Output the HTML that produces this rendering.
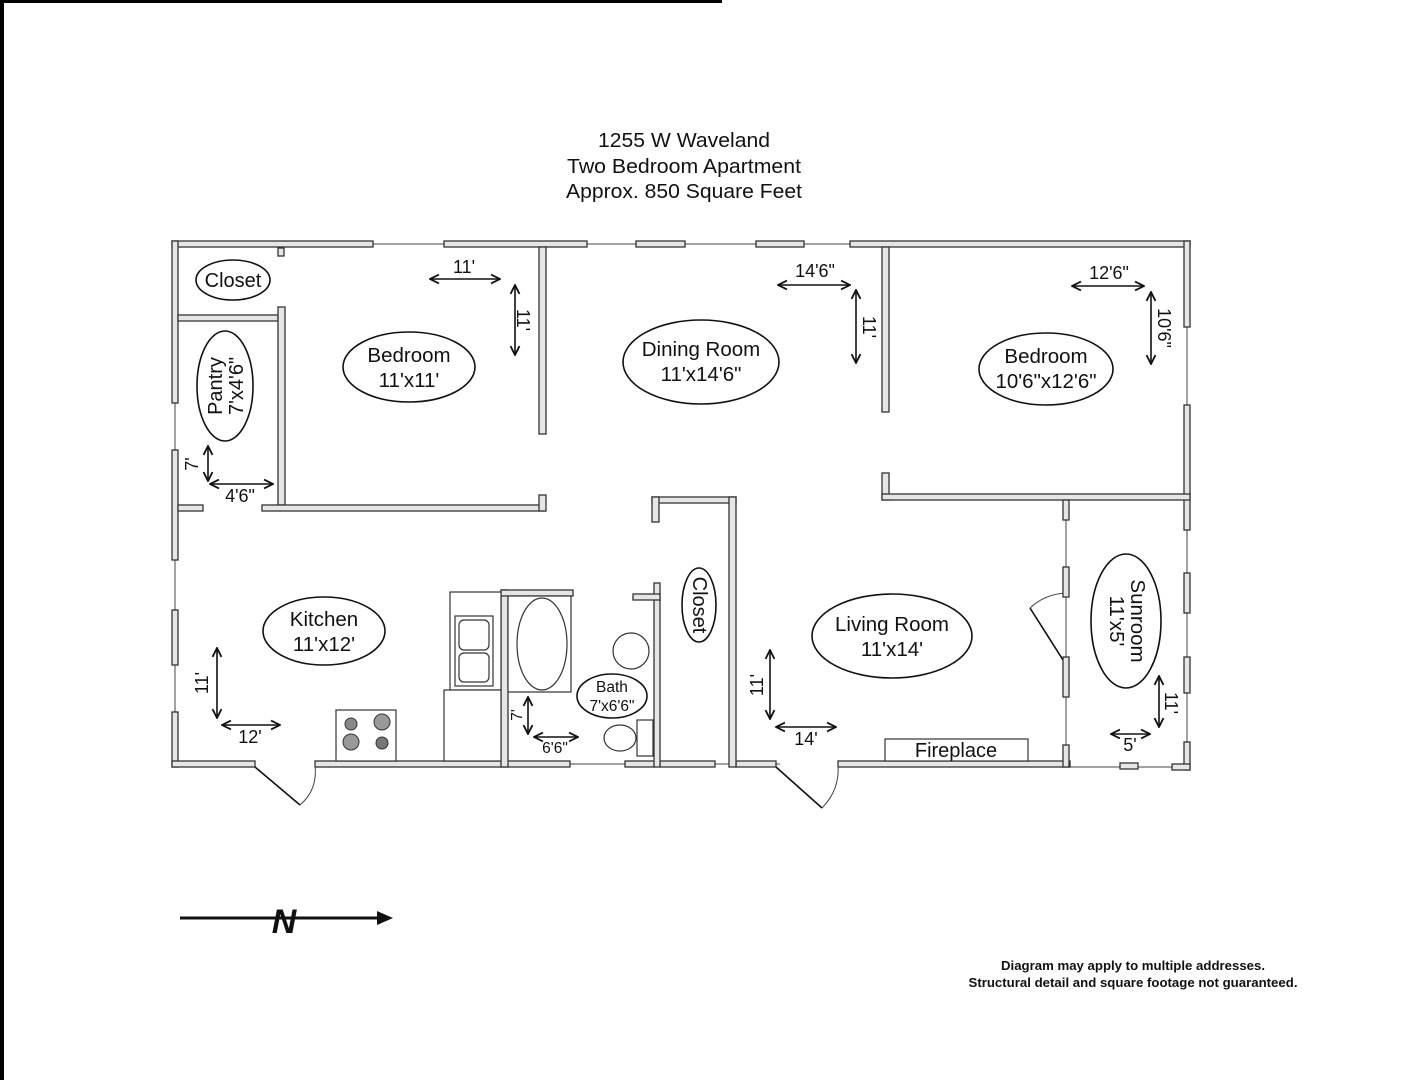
<!DOCTYPE html>
<html><head><meta charset="utf-8"><style>
html,body{margin:0;padding:0;background:#fff;}
svg{display:block;}
text{font-family:"Liberation Sans",Arial,sans-serif;fill:#111;}
.w{fill:#e6e6e6;stroke:#333;stroke-width:1.3;}
.t{stroke:#444;stroke-width:1;fill:none;}
.e{fill:#fff;stroke:#111;stroke-width:1.6;}
.a{stroke:#111;stroke-width:1.6;fill:none;}
.f{fill:#fff;stroke:#333;stroke-width:1.2;}
</style></head><body>
<svg width="1401" height="1080" viewBox="0 0 1401 1080" xmlns="http://www.w3.org/2000/svg">
<rect x="0" y="0" width="4" height="1080" fill="#000"/>
<rect x="0" y="0" width="722" height="3" fill="#000"/>
<defs>
<marker id="m" viewBox="0 0 10 10" refX="9" refY="5" markerWidth="7" markerHeight="7" orient="auto-start-reverse"><path d="M1,1 L9,5 L1,9" fill="none" stroke="#111" stroke-width="1.6"/></marker>
</defs>

<!-- Title -->
<text x="684" y="147" font-size="20.5" text-anchor="middle" textLength="172" lengthAdjust="spacingAndGlyphs">1255 W Waveland</text>
<text x="684" y="173" font-size="20.5" text-anchor="middle" textLength="234" lengthAdjust="spacingAndGlyphs">Two Bedroom Apartment</text>
<text x="684" y="198" font-size="20.5" text-anchor="middle" textLength="236" lengthAdjust="spacingAndGlyphs">Approx. 850 Square Feet</text>

<!-- window thin lines -->
<line class="t" x1="172" y1="244" x2="1188" y2="244"/>
<line class="t" x1="175" y1="241" x2="175" y2="767"/>
<line class="t" x1="1187" y1="241" x2="1187" y2="767"/>
<line class="t" x1="560" y1="764" x2="780" y2="764"/>
<line class="t" x1="1066" y1="500" x2="1066" y2="767"/>
<line class="t" x1="1066" y1="767" x2="1188" y2="767"/>

<!-- Top wall -->
<rect class="w" x="172" y="241" width="201" height="6"/>
<rect class="w" x="444" y="241" width="143" height="6"/>
<rect class="w" x="636" y="241" width="49" height="6"/>
<rect class="w" x="756" y="241" width="48" height="6"/>
<rect class="w" x="850" y="241" width="340" height="6"/>
<!-- Left wall -->
<rect class="w" x="172" y="241" width="6" height="162"/>
<rect class="w" x="172" y="450" width="6" height="110"/>
<rect class="w" x="172" y="610" width="6" height="55"/>
<rect class="w" x="172" y="712" width="6" height="55"/>
<!-- Right wall -->
<rect class="w" x="1184" y="241" width="6" height="86"/>
<rect class="w" x="1184" y="405" width="6" height="125"/>
<rect class="w" x="1184" y="573" width="6" height="40"/>
<rect class="w" x="1184" y="657" width="6" height="36"/>
<rect class="w" x="1184" y="742" width="6" height="28"/>
<!-- Bottom wall -->
<rect class="w" x="172" y="761" width="83" height="6"/>
<rect class="w" x="315" y="761" width="255" height="6"/>
<rect class="w" x="625" y="761" width="30" height="6"/>
<rect class="w" x="660" y="761" width="55" height="6"/>
<rect class="w" x="736" y="761" width="40" height="6"/>
<rect class="w" x="838" y="761" width="232" height="6"/>
<rect class="w" x="1120" y="763" width="18" height="6"/>
<rect class="w" x="1172" y="764" width="18" height="6"/>
<!-- doors -->
<line class="a" x1="255" y1="767" x2="300" y2="805"/>
<path class="t" d="M300,805 Q318,790 315,764"/>
<line class="a" x1="776" y1="767" x2="822" y2="808"/>
<path class="t" d="M822,808 Q840,790 838,764"/>
<line class="a" x1="1063" y1="660" x2="1030" y2="608"/>
<path class="t" d="M1030,608 Q1045,594 1066,593"/>

<!-- Interior walls -->
<rect class="w" x="178" y="315" width="100" height="6"/>
<rect class="w" x="278" y="307" width="7" height="198"/>
<rect class="w" x="262" y="505" width="283" height="6"/>
<rect class="w" x="539" y="495" width="7" height="16"/>
<rect class="w" x="178" y="505" width="25" height="6"/>
<rect class="w" x="539" y="247" width="7" height="187"/>
<rect class="w" x="882" y="247" width="7" height="165"/>
<rect class="w" x="882" y="473" width="7" height="27"/>
<rect class="w" x="882" y="494" width="308" height="6"/>
<rect class="w" x="1063" y="500" width="6" height="20"/>
<rect class="w" x="1063" y="567" width="6" height="30"/>
<rect class="w" x="1063" y="657" width="6" height="40"/>
<rect class="w" x="1063" y="745" width="6" height="22"/>
<rect class="w" x="278" y="248" width="6" height="8"/>
<!-- closet -->
<rect class="w" x="652" y="497" width="84" height="6"/>
<rect class="w" x="652" y="497" width="7" height="25"/>
<rect class="w" x="729" y="497" width="7" height="270"/>
<!-- bath -->
<rect class="w" x="654" y="583" width="6" height="184"/>
<rect class="w" x="633" y="594" width="27" height="6"/>
<rect class="w" x="501" y="590" width="7" height="177"/>
<rect class="w" x="501" y="590" width="72" height="6"/>

<!-- Fixtures -->
<rect class="f" x="450" y="592" width="51" height="98"/>
<rect class="f" x="455" y="616" width="38" height="70"/>
<rect class="f" x="459" y="620" width="30" height="30" rx="5"/>
<rect class="f" x="459" y="653" width="30" height="29" rx="5"/>
<rect class="f" x="444" y="690" width="57" height="71"/>
<rect class="f" x="336" y="710" width="60" height="51"/>
<circle cx="351" cy="724" r="6" fill="#888" stroke="#333"/>
<circle cx="382" cy="722" r="8" fill="#999" stroke="#333"/>
<circle cx="351" cy="742" r="8" fill="#999" stroke="#333"/>
<circle cx="382" cy="743" r="6" fill="#777" stroke="#333"/>
<rect class="f" x="508" y="596" width="63" height="96"/>
<ellipse class="f" cx="542" cy="644" rx="25" ry="46"/>
<circle class="f" cx="631" cy="651" r="18"/>
<ellipse class="f" cx="620" cy="738" rx="16" ry="13"/>
<rect class="f" x="637" y="720" width="16" height="36"/>
<rect class="f" x="885" y="739" width="143" height="22"/>
<text x="956" y="757" font-size="20" text-anchor="middle">Fireplace</text>

<!-- Labels -->
<ellipse class="e" cx="233" cy="280" rx="37" ry="20"/>
<text x="233" y="287" font-size="20" text-anchor="middle">Closet</text>
<ellipse class="e" cx="225" cy="386" rx="28" ry="55"/>
<text transform="translate(222,386) rotate(-90)" font-size="20" text-anchor="middle">Pantry</text>
<text transform="translate(243,386) rotate(-90)" font-size="20" text-anchor="middle">7'x4'6"</text>
<ellipse class="e" cx="409" cy="367" rx="66" ry="35"/>
<text x="409" y="362" font-size="20.5" text-anchor="middle">Bedroom</text>
<text x="409" y="387" font-size="20.5" text-anchor="middle">11'x11'</text>
<ellipse class="e" cx="701" cy="362" rx="78" ry="42"/>
<text x="701" y="356" font-size="20.5" text-anchor="middle">Dining Room</text>
<text x="701" y="381" font-size="20.5" text-anchor="middle">11'x14'6"</text>
<ellipse class="e" cx="1046" cy="369" rx="67" ry="36"/>
<text x="1046" y="363" font-size="20.5" text-anchor="middle">Bedroom</text>
<text x="1046" y="388" font-size="20.5" text-anchor="middle">10'6"x12'6"</text>
<ellipse class="e" cx="324" cy="631" rx="61" ry="34"/>
<text x="324" y="626" font-size="20.5" text-anchor="middle">Kitchen</text>
<text x="324" y="651" font-size="20.5" text-anchor="middle">11'x12'</text>
<ellipse class="e" cx="612" cy="696" rx="35" ry="22"/>
<text x="612" y="692" font-size="15.5" text-anchor="middle">Bath</text>
<text x="612" y="711" font-size="15.5" text-anchor="middle">7'x6'6"</text>
<ellipse class="e" cx="699" cy="605" rx="17" ry="37"/>
<text transform="translate(693,605) rotate(90)" font-size="20" text-anchor="middle">Closet</text>
<ellipse class="e" cx="892" cy="636" rx="80" ry="42"/>
<text x="892" y="631" font-size="20.5" text-anchor="middle">Living Room</text>
<text x="892" y="656" font-size="20.5" text-anchor="middle">11'x14'</text>
<ellipse class="e" cx="1126" cy="621" rx="35" ry="67"/>
<text transform="translate(1131,621) rotate(90)" font-size="20.5" text-anchor="middle">Sunroom</text>
<text transform="translate(1110,621) rotate(90)" font-size="20.5" text-anchor="middle">11'x5'</text>

<!-- Dimension arrows -->
<line class="a" x1="430" y1="279" x2="500" y2="279" marker-start="url(#m)" marker-end="url(#m)"/>
<text x="464" y="273" font-size="18" text-anchor="middle">11'</text>
<line class="a" x1="515" y1="285" x2="515" y2="355" marker-start="url(#m)" marker-end="url(#m)"/>
<text transform="translate(517,320) rotate(90)" font-size="18" text-anchor="middle">11'</text>
<line class="a" x1="778" y1="285" x2="850" y2="285" marker-start="url(#m)" marker-end="url(#m)"/>
<text x="815" y="277" font-size="18" text-anchor="middle">14'6"</text>
<line class="a" x1="856" y1="290" x2="856" y2="363" marker-start="url(#m)" marker-end="url(#m)"/>
<text transform="translate(863,327) rotate(90)" font-size="18" text-anchor="middle">11'</text>
<line class="a" x1="1072" y1="286" x2="1144" y2="286" marker-start="url(#m)" marker-end="url(#m)"/>
<text x="1109" y="279" font-size="18" text-anchor="middle">12'6"</text>
<line class="a" x1="1151" y1="292" x2="1151" y2="364" marker-start="url(#m)" marker-end="url(#m)"/>
<text transform="translate(1158,328) rotate(90)" font-size="18" text-anchor="middle">10'6"</text>
<line class="a" x1="208" y1="446" x2="208" y2="481" marker-start="url(#m)" marker-end="url(#m)"/>
<text transform="translate(198,464) rotate(-90)" font-size="18" text-anchor="middle">7'</text>
<line class="a" x1="210" y1="484" x2="273" y2="484" marker-start="url(#m)" marker-end="url(#m)"/>
<text x="240" y="502" font-size="18" text-anchor="middle">4'6"</text>
<line class="a" x1="217" y1="648" x2="217" y2="718" marker-start="url(#m)" marker-end="url(#m)"/>
<text transform="translate(208,683) rotate(-90)" font-size="18" text-anchor="middle">11'</text>
<line class="a" x1="222" y1="725" x2="280" y2="725" marker-start="url(#m)" marker-end="url(#m)"/>
<text x="250" y="743" font-size="18" text-anchor="middle">12'</text>
<line class="a" x1="528" y1="697" x2="528" y2="734" marker-start="url(#m)" marker-end="url(#m)"/>
<text transform="translate(522,715) rotate(-90)" font-size="15.5" text-anchor="middle">7'</text>
<line class="a" x1="534" y1="737" x2="578" y2="737" marker-start="url(#m)" marker-end="url(#m)"/>
<text x="555" y="753" font-size="15.5" text-anchor="middle">6'6"</text>
<line class="a" x1="770" y1="650" x2="770" y2="719" marker-start="url(#m)" marker-end="url(#m)"/>
<text transform="translate(763,685) rotate(-90)" font-size="18" text-anchor="middle">11'</text>
<line class="a" x1="776" y1="727" x2="836" y2="727" marker-start="url(#m)" marker-end="url(#m)"/>
<text x="806" y="745" font-size="18" text-anchor="middle">14'</text>
<line class="a" x1="1159" y1="676" x2="1159" y2="727" marker-start="url(#m)" marker-end="url(#m)"/>
<text transform="translate(1165,703) rotate(90)" font-size="18" text-anchor="middle">11'</text>
<line class="a" x1="1111" y1="734" x2="1150" y2="734" marker-start="url(#m)" marker-end="url(#m)"/>
<text x="1130" y="751" font-size="18" text-anchor="middle">5'</text>

<!-- North arrow -->
<line x1="180" y1="918" x2="380" y2="918" stroke="#111" stroke-width="3"/>
<path d="M377,911 L393,918 L377,925 Z" fill="#111"/>
<text x="284" y="933" font-size="34" font-weight="bold" font-style="italic" text-anchor="middle">N</text>

<!-- Footer note -->
<text x="1133" y="970" font-size="13" font-weight="bold" text-anchor="middle" textLength="264" lengthAdjust="spacingAndGlyphs">Diagram may apply to multiple addresses.</text>
<text x="1133" y="987" font-size="13" font-weight="bold" text-anchor="middle" textLength="329" lengthAdjust="spacingAndGlyphs">Structural detail and square footage not guaranteed.</text>
</svg>
</body></html>
